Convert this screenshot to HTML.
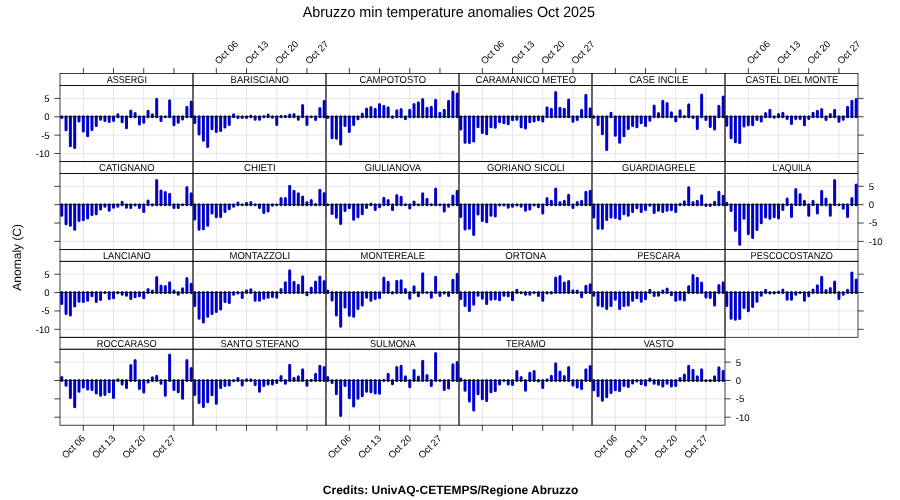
<!DOCTYPE html><html><head><meta charset="utf-8"><style>html,body{margin:0;padding:0;background:#fff;width:900px;height:500px;overflow:hidden}svg{display:block;will-change:transform}text{font-family:"Liberation Sans",sans-serif;fill:#000;text-rendering:geometricPrecision}</style></head><body>
<svg width="900" height="500" viewBox="0 0 900 500">
<rect width="900" height="500" fill="#fff"/>
<text transform="translate(448.9 16.75) scale(0.955 1)" font-size="15" text-anchor="middle">Abruzzo min temperature anomalies Oct 2025</text>
<text transform="translate(20.9 257.3) rotate(-90)" font-size="12" text-anchor="middle">Anomaly (C)</text>
<text x="450.6" y="493.8" font-size="12" font-weight="bold" text-anchor="middle">Credits: UnivAQ-CETEMPS/Regione Abruzzo</text>
<defs>
<clipPath id="cp0"><rect x="60.00" y="85.50" width="133.00" height="76.00"/></clipPath>
<clipPath id="cp1"><rect x="193.00" y="85.50" width="133.00" height="76.00"/></clipPath>
<clipPath id="cp2"><rect x="326.00" y="85.50" width="133.00" height="76.00"/></clipPath>
<clipPath id="cp3"><rect x="459.00" y="85.50" width="133.00" height="76.00"/></clipPath>
<clipPath id="cp4"><rect x="592.00" y="85.50" width="133.00" height="76.00"/></clipPath>
<clipPath id="cp5"><rect x="725.00" y="85.50" width="133.00" height="76.00"/></clipPath>
<clipPath id="cp6"><rect x="60.00" y="173.40" width="133.00" height="76.00"/></clipPath>
<clipPath id="cp7"><rect x="193.00" y="173.40" width="133.00" height="76.00"/></clipPath>
<clipPath id="cp8"><rect x="326.00" y="173.40" width="133.00" height="76.00"/></clipPath>
<clipPath id="cp9"><rect x="459.00" y="173.40" width="133.00" height="76.00"/></clipPath>
<clipPath id="cp10"><rect x="592.00" y="173.40" width="133.00" height="76.00"/></clipPath>
<clipPath id="cp11"><rect x="725.00" y="173.40" width="133.00" height="76.00"/></clipPath>
<clipPath id="cp12"><rect x="60.00" y="261.30" width="133.00" height="76.00"/></clipPath>
<clipPath id="cp13"><rect x="193.00" y="261.30" width="133.00" height="76.00"/></clipPath>
<clipPath id="cp14"><rect x="326.00" y="261.30" width="133.00" height="76.00"/></clipPath>
<clipPath id="cp15"><rect x="459.00" y="261.30" width="133.00" height="76.00"/></clipPath>
<clipPath id="cp16"><rect x="592.00" y="261.30" width="133.00" height="76.00"/></clipPath>
<clipPath id="cp17"><rect x="725.00" y="261.30" width="133.00" height="76.00"/></clipPath>
<clipPath id="cp18"><rect x="60.00" y="349.20" width="133.00" height="76.00"/></clipPath>
<clipPath id="cp19"><rect x="193.00" y="349.20" width="133.00" height="76.00"/></clipPath>
<clipPath id="cp20"><rect x="326.00" y="349.20" width="133.00" height="76.00"/></clipPath>
<clipPath id="cp21"><rect x="459.00" y="349.20" width="133.00" height="76.00"/></clipPath>
<clipPath id="cp22"><rect x="592.00" y="349.20" width="133.00" height="76.00"/></clipPath>
</defs>
<path d="M83.33 85.50V161.50M113.53 85.50V161.50M143.74 85.50V161.50M173.94 85.50V161.50M60.00 98.41H193.00M60.00 135.13H193.00M60.00 153.50H193.00" stroke="#E6E6E6" stroke-width="1" fill="none"/>
<g clip-path="url(#cp0)"><path d="M61.75 116.77V117.50M66.06 116.77V129.81M70.38 116.77V145.64M74.69 116.77V147.48M79.01 116.77V121.03M83.33 116.77V131.02M87.64 116.77V135.87M91.95 116.77V129.48M96.27 116.77V125.59M100.59 116.77V119.19M104.90 116.77V120.59M109.22 116.77V121.54M113.53 116.77V120.59M117.84 116.77V114.82M122.16 116.77V121.80M126.48 116.77V127.64M130.79 116.77V111.00M135.11 116.77V113.61M139.42 116.77V124.12M143.74 116.77V122.28M148.05 116.77V111.30M152.37 116.77V114.82M156.68 116.77V99.32M161.00 116.77V120.59M165.31 116.77V116.77M169.62 116.77V100.87M173.94 116.77V124.85M178.25 116.77V122.28M182.57 116.77V118.97M186.88 116.77V107.15M191.20 116.77V102.08" stroke="#0000CD" stroke-width="3" stroke-linecap="round" fill="none"/>
<path d="M60.00 116.77H193.00" stroke="#000" stroke-width="0.75"/></g>
<rect x="60.00" y="73.60" width="133.00" height="11.90" fill="none" stroke="#000" stroke-width="0.75"/>
<rect x="60.00" y="85.50" width="133.00" height="76.00" fill="none" stroke="#000" stroke-width="0.75"/>
<text transform="translate(126.80 82.80) scale(0.906 1)" font-size="10" text-anchor="middle">ASSERGI</text>
<path d="M216.32 85.50V161.50M246.53 85.50V161.50M276.74 85.50V161.50M306.94 85.50V161.50M193.00 98.41H326.00M193.00 135.13H326.00M193.00 153.50H326.00" stroke="#E6E6E6" stroke-width="1" fill="none"/>
<g clip-path="url(#cp1)"><path d="M194.75 116.77V122.57M199.06 116.77V134.03M203.38 116.77V140.28M207.69 116.77V146.52M212.01 116.77V128.71M216.32 116.77V131.46M220.64 116.77V130.54M224.96 116.77V127.05M229.27 116.77V124.48M233.59 116.77V114.75M237.90 116.77V117.50M242.22 116.77V117.50M246.53 116.77V117.50M250.84 116.77V116.04M255.16 116.77V119.19M259.48 116.77V119.19M263.79 116.77V116.59M268.11 116.77V115.12M272.42 116.77V117.14M276.74 116.77V124.48M281.05 116.77V116.15M285.37 116.77V116.15M289.68 116.77V115.12M294.00 116.77V114.53M298.31 116.77V119.19M302.62 116.77V105.57M306.94 116.77V124.48M311.25 116.77V116.77M315.57 116.77V119.49M319.88 116.77V108.40M324.20 116.77V101.31" stroke="#0000CD" stroke-width="3" stroke-linecap="round" fill="none"/>
<path d="M193.00 116.77H326.00" stroke="#000" stroke-width="0.75"/></g>
<rect x="193.00" y="73.60" width="133.00" height="11.90" fill="none" stroke="#000" stroke-width="0.75"/>
<rect x="193.00" y="85.50" width="133.00" height="76.00" fill="none" stroke="#000" stroke-width="0.75"/>
<text transform="translate(259.80 82.80) scale(0.946 1)" font-size="10" text-anchor="middle">BARISCIANO</text>
<path d="M349.32 85.50V161.50M379.53 85.50V161.50M409.74 85.50V161.50M439.94 85.50V161.50M326.00 98.41H459.00M326.00 135.13H459.00M326.00 153.50H459.00" stroke="#E6E6E6" stroke-width="1" fill="none"/>
<g clip-path="url(#cp2)"><path d="M327.75 116.77V117.50M332.06 116.77V137.71M336.38 116.77V138.26M340.69 116.77V143.95M345.01 116.77V125.59M349.32 116.77V131.46M353.64 116.77V124.48M357.95 116.77V118.72M362.27 116.77V114.02M366.58 116.77V108.98M370.90 116.77V107.40M375.22 116.77V109.24M379.53 116.77V104.47M383.85 116.77V106.30M388.16 116.77V107.77M392.48 116.77V117.32M396.79 116.77V110.86M401.11 116.77V109.46M405.42 116.77V118.72M409.74 116.77V110.23M414.05 116.77V104.47M418.37 116.77V102.85M422.68 116.77V99.47M427.00 116.77V108.21M431.31 116.77V107.15M435.62 116.77V100.24M439.94 116.77V113.28M444.25 116.77V110.23M448.57 116.77V101.31M452.88 116.77V92.09M457.20 116.77V93.92" stroke="#0000CD" stroke-width="3" stroke-linecap="round" fill="none"/>
<path d="M326.00 116.77H459.00" stroke="#000" stroke-width="0.75"/></g>
<rect x="326.00" y="73.60" width="133.00" height="11.90" fill="none" stroke="#000" stroke-width="0.75"/>
<rect x="326.00" y="85.50" width="133.00" height="76.00" fill="none" stroke="#000" stroke-width="0.75"/>
<text transform="translate(392.80 82.80) scale(0.941 1)" font-size="10" text-anchor="middle">CAMPOTOSTO</text>
<path d="M482.32 85.50V161.50M512.53 85.50V161.50M542.74 85.50V161.50M572.94 85.50V161.50M459.00 98.41H592.00M459.00 135.13H592.00M459.00 153.50H592.00" stroke="#E6E6E6" stroke-width="1" fill="none"/>
<g clip-path="url(#cp3)"><path d="M460.75 116.77V129.04M465.06 116.77V142.26M469.38 116.77V142.55M473.69 116.77V141.01M478.01 116.77V126.87M482.32 116.77V132.56M486.64 116.77V133.67M490.95 116.77V126.87M495.27 116.77V127.20M499.58 116.77V121.80M503.90 116.77V122.87M508.22 116.77V123.82M512.53 116.77V119.82M516.85 116.77V119.19M521.16 116.77V126.87M525.48 116.77V127.97M529.79 116.77V121.80M534.11 116.77V121.03M538.42 116.77V119.82M542.74 116.77V121.03M547.05 116.77V107.77M551.37 116.77V109.31M555.68 116.77V92.38M560.00 116.77V108.21M564.31 116.77V109.31M568.62 116.77V100.06M572.94 116.77V121.36M577.25 116.77V119.49M581.57 116.77V110.23M585.88 116.77V95.17M590.20 116.77V108.69" stroke="#0000CD" stroke-width="3" stroke-linecap="round" fill="none"/>
<path d="M459.00 116.77H592.00" stroke="#000" stroke-width="0.75"/></g>
<rect x="459.00" y="73.60" width="133.00" height="11.90" fill="none" stroke="#000" stroke-width="0.75"/>
<rect x="459.00" y="85.50" width="133.00" height="76.00" fill="none" stroke="#000" stroke-width="0.75"/>
<text transform="translate(525.80 82.80) scale(0.947 1)" font-size="10" text-anchor="middle">CARAMANICO METEO</text>
<path d="M615.33 85.50V161.50M645.53 85.50V161.50M675.74 85.50V161.50M705.94 85.50V161.50M592.00 98.41H725.00M592.00 135.13H725.00M592.00 153.50H725.00" stroke="#E6E6E6" stroke-width="1" fill="none"/>
<g clip-path="url(#cp4)"><path d="M593.75 116.77V117.14M598.07 116.77V124.41M602.38 116.77V133.67M606.70 116.77V149.46M611.01 116.77V113.28M615.33 116.77V135.13M619.64 116.77V142.26M623.96 116.77V135.65M628.27 116.77V128.41M632.59 116.77V125.59M636.90 116.77V126.87M641.22 116.77V122.87M645.53 116.77V125.59M649.85 116.77V120.26M654.16 116.77V105.93M658.48 116.77V113.61M662.79 116.77V101.31M667.11 116.77V103.62M671.42 116.77V112.84M675.74 116.77V120.74M680.05 116.77V110.86M684.37 116.77V116.59M688.68 116.77V104.83M693.00 116.77V117.50M697.31 116.77V128.41M701.62 116.77V94.92M705.94 116.77V119.49M710.25 116.77V126.43M714.57 116.77V129.04M718.88 116.77V106.23M723.20 116.77V97.01" stroke="#0000CD" stroke-width="3" stroke-linecap="round" fill="none"/>
<path d="M592.00 116.77H725.00" stroke="#000" stroke-width="0.75"/></g>
<rect x="592.00" y="73.60" width="133.00" height="11.90" fill="none" stroke="#000" stroke-width="0.75"/>
<rect x="592.00" y="85.50" width="133.00" height="76.00" fill="none" stroke="#000" stroke-width="0.75"/>
<text transform="translate(658.80 82.80) scale(0.952 1)" font-size="10" text-anchor="middle">CASE INCILE</text>
<path d="M748.33 85.50V161.50M778.53 85.50V161.50M808.74 85.50V161.50M838.94 85.50V161.50M725.00 98.41H858.00M725.00 135.13H858.00M725.00 153.50H858.00" stroke="#E6E6E6" stroke-width="1" fill="none"/>
<g clip-path="url(#cp5)"><path d="M726.75 116.77V125.33M731.07 116.77V137.71M735.38 116.77V141.75M739.70 116.77V142.48M744.01 116.77V125.95M748.33 116.77V124.85M752.64 116.77V124.85M756.96 116.77V119.49M761.27 116.77V121.03M765.59 116.77V113.61M769.90 116.77V110.23M774.22 116.77V117.14M778.53 116.77V114.38M782.85 116.77V113.28M787.16 116.77V118.61M791.48 116.77V123.38M795.79 116.77V118.61M800.11 116.77V118.61M804.42 116.77V124.85M808.74 116.77V118.61M813.05 116.77V113.28M817.37 116.77V111.30M821.68 116.77V109.46M826.00 116.77V119.49M830.31 116.77V114.53M834.62 116.77V110.23M838.94 116.77V121.36M843.25 116.77V119.19M847.57 116.77V107.15M851.88 116.77V101.31M856.20 116.77V99.47" stroke="#0000CD" stroke-width="3" stroke-linecap="round" fill="none"/>
<path d="M725.00 116.77H858.00" stroke="#000" stroke-width="0.75"/></g>
<rect x="725.00" y="73.60" width="133.00" height="11.90" fill="none" stroke="#000" stroke-width="0.75"/>
<rect x="725.00" y="85.50" width="133.00" height="76.00" fill="none" stroke="#000" stroke-width="0.75"/>
<text transform="translate(791.80 82.80) scale(0.934 1)" font-size="10" text-anchor="middle">CASTEL DEL MONTE</text>
<path d="M83.33 173.40V249.40M113.53 173.40V249.40M143.74 173.40V249.40M173.94 173.40V249.40M60.00 186.31H193.00M60.00 223.04H193.00M60.00 241.40H193.00" stroke="#E6E6E6" stroke-width="1" fill="none"/>
<g clip-path="url(#cp6)"><path d="M61.75 204.67V215.25M66.06 204.67V223.70M70.38 204.67V225.24M74.69 204.67V229.28M79.01 204.67V220.61M83.33 204.67V219.84M87.64 204.67V217.89M91.95 204.67V214.48M96.27 204.67V213.71M100.59 204.67V209.08M104.90 204.67V206.32M109.22 204.67V210.33M113.53 204.67V207.24M117.84 204.67V206.32M122.16 204.67V202.14M126.48 204.67V207.24M130.79 204.67V207.57M135.11 204.67V205.04M139.42 204.67V207.57M143.74 204.67V211.39M148.05 204.67V200.89M152.37 204.67V205.04M156.68 204.67V180.46M161.00 204.67V190.90M165.31 204.67V192.44M169.62 204.67V194.28M173.94 204.67V207.57M178.25 204.67V207.57M182.57 204.67V204.85M186.88 204.67V187.52M191.20 204.67V193.65" stroke="#0000CD" stroke-width="3" stroke-linecap="round" fill="none"/>
<path d="M60.00 204.67H193.00" stroke="#000" stroke-width="0.75"/></g>
<rect x="60.00" y="161.50" width="133.00" height="11.90" fill="none" stroke="#000" stroke-width="0.75"/>
<rect x="60.00" y="173.40" width="133.00" height="76.00" fill="none" stroke="#000" stroke-width="0.75"/>
<text transform="translate(126.80 170.70) scale(0.943 1)" font-size="10" text-anchor="middle">CATIGNANO</text>
<path d="M216.32 173.40V249.40M246.53 173.40V249.40M276.74 173.40V249.40M306.94 173.40V249.40M193.00 186.31H326.00M193.00 223.04H326.00M193.00 241.40H326.00" stroke="#E6E6E6" stroke-width="1" fill="none"/>
<g clip-path="url(#cp7)"><path d="M194.75 204.67V219.07M199.06 204.67V229.28M203.38 204.67V228.76M207.69 204.67V225.24M212.01 204.67V212.93M216.32 204.67V216.79M220.64 204.67V216.42M224.96 204.67V211.39M229.27 204.67V208.78M233.59 204.67V206.32M237.90 204.67V202.91M242.22 204.67V204.85M246.53 204.67V203.20M250.84 204.67V202.58M255.16 204.67V204.85M259.48 204.67V207.57M263.79 204.67V212.46M268.11 204.67V210.91M272.42 204.67V205.29M276.74 204.67V204.85M281.05 204.67V198.61M285.37 204.67V198.61M289.68 204.67V186.31M294.00 204.67V191.37M298.31 204.67V193.65M302.62 204.67V197.07M306.94 204.67V202.43M311.25 204.67V200.45M315.57 204.67V204.49M319.88 204.67V190.16M324.20 204.67V193.47" stroke="#0000CD" stroke-width="3" stroke-linecap="round" fill="none"/>
<path d="M193.00 204.67H326.00" stroke="#000" stroke-width="0.75"/></g>
<rect x="193.00" y="161.50" width="133.00" height="11.90" fill="none" stroke="#000" stroke-width="0.75"/>
<rect x="193.00" y="173.40" width="133.00" height="76.00" fill="none" stroke="#000" stroke-width="0.75"/>
<text transform="translate(259.80 170.70) scale(0.969 1)" font-size="10" text-anchor="middle">CHIETI</text>
<path d="M349.32 173.40V249.40M379.53 173.40V249.40M409.74 173.40V249.40M439.94 173.40V249.40M326.00 186.31H459.00M326.00 223.04H459.00M326.00 241.40H459.00" stroke="#E6E6E6" stroke-width="1" fill="none"/>
<g clip-path="url(#cp8)"><path d="M327.75 204.67V204.67M332.06 204.67V213.49M336.38 204.67V217.16M340.69 204.67V223.40M345.01 204.67V210.62M349.32 204.67V207.87M353.64 204.67V219.25M357.95 204.67V216.79M362.27 204.67V213.71M366.58 204.67V207.57M370.90 204.67V204.05M375.22 204.67V209.56M379.53 204.67V206.80M383.85 204.67V198.24M388.16 204.67V200.59M392.48 204.67V209.56M396.79 204.67V195.52M401.11 204.67V197.36M405.42 204.67V204.85M409.74 204.67V208.01M414.05 204.67V201.95M418.37 204.67V204.85M422.68 204.67V193.65M427.00 204.67V199.34M431.31 204.67V204.67M435.62 204.67V188.91M439.94 204.67V204.85M444.25 204.67V210.91M448.57 204.67V206.32M452.88 204.67V195.96M457.20 204.67V191.37" stroke="#0000CD" stroke-width="3" stroke-linecap="round" fill="none"/>
<path d="M326.00 204.67H459.00" stroke="#000" stroke-width="0.75"/></g>
<rect x="326.00" y="161.50" width="133.00" height="11.90" fill="none" stroke="#000" stroke-width="0.75"/>
<rect x="326.00" y="173.40" width="133.00" height="76.00" fill="none" stroke="#000" stroke-width="0.75"/>
<text transform="translate(392.80 170.70) scale(0.932 1)" font-size="10" text-anchor="middle">GIULIANOVA</text>
<path d="M482.32 173.40V249.40M512.53 173.40V249.40M542.74 173.40V249.40M572.94 173.40V249.40M459.00 186.31H592.00M459.00 223.04H592.00M459.00 241.40H592.00" stroke="#E6E6E6" stroke-width="1" fill="none"/>
<g clip-path="url(#cp9)"><path d="M460.75 204.67V216.42M465.06 204.67V229.06M469.38 204.67V228.29M473.69 204.67V234.42M478.01 204.67V214.00M482.32 204.67V220.46M486.64 204.67V221.71M490.95 204.67V215.25M495.27 204.67V216.06M499.58 204.67V205.04M503.90 204.67V205.04M508.22 204.67V207.24M512.53 204.67V206.32M516.85 204.67V205.04M521.16 204.67V206.32M525.48 204.67V210.18M529.79 204.67V209.08M534.11 204.67V205.04M538.42 204.67V206.80M542.74 204.67V212.93M547.05 204.67V198.61M551.37 204.67V201.36M555.68 204.67V189.06M560.00 204.67V202.43M564.31 204.67V201.36M568.62 204.67V195.19M572.94 204.67V207.57M577.25 204.67V202.58M581.57 204.67V201.36M585.88 204.67V192.15M590.20 204.67V191.26" stroke="#0000CD" stroke-width="3" stroke-linecap="round" fill="none"/>
<path d="M459.00 204.67H592.00" stroke="#000" stroke-width="0.75"/></g>
<rect x="459.00" y="161.50" width="133.00" height="11.90" fill="none" stroke="#000" stroke-width="0.75"/>
<rect x="459.00" y="173.40" width="133.00" height="76.00" fill="none" stroke="#000" stroke-width="0.75"/>
<text transform="translate(525.80 170.70) scale(0.938 1)" font-size="10" text-anchor="middle">GORIANO SICOLI</text>
<path d="M615.33 173.40V249.40M645.53 173.40V249.40M675.74 173.40V249.40M705.94 173.40V249.40M592.00 186.31H725.00M592.00 223.04H725.00M592.00 241.40H725.00" stroke="#E6E6E6" stroke-width="1" fill="none"/>
<g clip-path="url(#cp10)"><path d="M593.75 204.67V217.08M598.07 204.67V228.29M602.38 204.67V228.29M606.70 204.67V219.55M611.01 204.67V217.08M615.33 204.67V217.53M619.64 204.67V218.63M623.96 204.67V213.71M628.27 204.67V215.25M632.59 204.67V211.39M636.90 204.67V207.87M641.22 204.67V211.39M645.53 204.67V209.41M649.85 204.67V205.22M654.16 204.67V212.46M658.48 204.67V210.33M662.79 204.67V211.54M667.11 204.67V210.33M671.42 204.67V209.81M675.74 204.67V211.39M680.05 204.67V204.19M684.37 204.67V201.66M688.68 204.67V187.85M693.00 204.67V202.58M697.31 204.67V201.18M701.62 204.67V195.82M705.94 204.67V205.40M710.25 204.67V205.40M714.57 204.67V202.14M718.88 204.67V192.15M723.20 204.67V196.30" stroke="#0000CD" stroke-width="3" stroke-linecap="round" fill="none"/>
<path d="M592.00 204.67H725.00" stroke="#000" stroke-width="0.75"/></g>
<rect x="592.00" y="161.50" width="133.00" height="11.90" fill="none" stroke="#000" stroke-width="0.75"/>
<rect x="592.00" y="173.40" width="133.00" height="76.00" fill="none" stroke="#000" stroke-width="0.75"/>
<text transform="translate(658.80 170.70) scale(0.924 1)" font-size="10" text-anchor="middle">GUARDIAGRELE</text>
<path d="M748.33 173.40V249.40M778.53 173.40V249.40M808.74 173.40V249.40M838.94 173.40V249.40M725.00 186.31H858.00M725.00 223.04H858.00M725.00 241.40H858.00" stroke="#E6E6E6" stroke-width="1" fill="none"/>
<g clip-path="url(#cp11)"><path d="M726.75 204.67V203.20M731.07 204.67V210.62M735.38 204.67V230.31M739.70 204.67V244.34M744.01 204.67V218.15M748.33 204.67V233.69M752.64 204.67V237.51M756.96 204.67V229.39M761.27 204.67V222.67M765.59 204.67V217.08M769.90 204.67V218.26M774.22 204.67V216.79M778.53 204.67V218.00M782.85 204.67V209.41M787.16 204.67V198.90M791.48 204.67V216.42M795.79 204.67V189.43M800.11 204.67V194.42M804.42 204.67V201.18M808.74 204.67V215.25M813.05 204.67V201.18M817.37 204.67V212.93M821.68 204.67V191.26M826.00 204.67V198.90M830.31 204.67V215.25M834.62 204.67V180.46M838.94 204.67V204.67M843.25 204.67V208.34M847.57 204.67V216.42M851.88 204.67V198.61M856.20 204.67V185.02" stroke="#0000CD" stroke-width="3" stroke-linecap="round" fill="none"/>
<path d="M725.00 204.67H858.00" stroke="#000" stroke-width="0.75"/></g>
<rect x="725.00" y="161.50" width="133.00" height="11.90" fill="none" stroke="#000" stroke-width="0.75"/>
<rect x="725.00" y="173.40" width="133.00" height="76.00" fill="none" stroke="#000" stroke-width="0.75"/>
<text transform="translate(791.80 170.70) scale(0.875 1)" font-size="10" text-anchor="middle">L&apos;AQUILA</text>
<path d="M83.33 261.30V337.30M113.53 261.30V337.30M143.74 261.30V337.30M173.94 261.30V337.30M60.00 274.20H193.00M60.00 310.94H193.00M60.00 329.30H193.00" stroke="#E6E6E6" stroke-width="1" fill="none"/>
<g clip-path="url(#cp12)"><path d="M61.75 292.57V303.44M66.06 292.57V313.51M70.38 292.57V315.12M74.69 292.57V305.90M79.01 292.57V301.31M83.33 292.57V301.61M87.64 292.57V300.36M91.95 292.57V295.77M96.27 292.57V301.61M100.59 292.57V299.44M104.90 292.57V292.39M109.22 292.57V298.52M113.53 292.57V297.71M117.84 292.57V292.75M122.16 292.57V294.22M126.48 292.57V295.14M130.79 292.57V298.52M135.11 292.57V296.68M139.42 292.57V295.77M143.74 292.57V297.71M148.05 292.57V289.56M152.37 292.57V291.10M156.68 292.57V277.58M161.00 292.57V286.03M165.31 292.57V286.51M169.62 292.57V282.65M173.94 292.57V291.10M178.25 292.57V294.22M182.57 292.57V288.79M186.88 292.57V278.50M191.20 292.57V284.20" stroke="#0000CD" stroke-width="3" stroke-linecap="round" fill="none"/>
<path d="M60.00 292.57H193.00" stroke="#000" stroke-width="0.75"/></g>
<rect x="60.00" y="249.40" width="133.00" height="11.90" fill="none" stroke="#000" stroke-width="0.75"/>
<rect x="60.00" y="261.30" width="133.00" height="76.00" fill="none" stroke="#000" stroke-width="0.75"/>
<text transform="translate(126.80 258.60) scale(0.934 1)" font-size="10" text-anchor="middle">LANCIANO</text>
<path d="M216.32 261.30V337.30M246.53 261.30V337.30M276.74 261.30V337.30M306.94 261.30V337.30M193.00 274.20H326.00M193.00 310.94H326.00M193.00 329.30H326.00" stroke="#E6E6E6" stroke-width="1" fill="none"/>
<g clip-path="url(#cp13)"><path d="M194.75 292.57V305.43M199.06 292.57V318.21M203.38 292.57V321.88M207.69 292.57V316.19M212.01 292.57V313.43M216.32 292.57V311.60M220.64 292.57V308.99M224.96 292.57V301.61M229.27 292.57V302.38M233.59 292.57V294.22M237.90 292.57V292.94M242.22 292.57V297.46M246.53 292.57V290.81M250.84 292.57V289.85M255.16 292.57V300.36M259.48 292.57V300.36M263.79 292.57V298.23M268.11 292.57V297.31M272.42 292.57V296.54M276.74 292.57V297.31M281.05 292.57V289.56M285.37 292.57V282.65M289.68 292.57V270.83M294.00 292.57V282.18M298.31 292.57V285.26M302.62 292.57V276.81M306.94 292.57V294.70M311.25 292.57V288.02M315.57 292.57V281.88M319.88 292.57V276.96M324.20 292.57V281.55" stroke="#0000CD" stroke-width="3" stroke-linecap="round" fill="none"/>
<path d="M193.00 292.57H326.00" stroke="#000" stroke-width="0.75"/></g>
<rect x="193.00" y="249.40" width="133.00" height="11.90" fill="none" stroke="#000" stroke-width="0.75"/>
<rect x="193.00" y="261.30" width="133.00" height="76.00" fill="none" stroke="#000" stroke-width="0.75"/>
<text transform="translate(259.80 258.60) scale(0.953 1)" font-size="10" text-anchor="middle">MONTAZZOLI</text>
<path d="M349.32 261.30V337.30M379.53 261.30V337.30M409.74 261.30V337.30M439.94 261.30V337.30M326.00 274.20H459.00M326.00 310.94H459.00M326.00 329.30H459.00" stroke="#E6E6E6" stroke-width="1" fill="none"/>
<g clip-path="url(#cp14)"><path d="M327.75 292.57V291.10M332.06 292.57V300.06M336.38 292.57V315.12M340.69 292.57V326.18M345.01 292.57V306.97M349.32 292.57V315.34M353.64 292.57V316.19M357.95 292.57V308.51M362.27 292.57V304.98M366.58 292.57V297.31M370.90 292.57V300.36M375.22 292.57V298.52M379.53 292.57V297.46M383.85 292.57V278.06M388.16 292.57V282.32M392.48 292.57V292.94M396.79 292.57V281.37M401.11 292.57V280.63M405.42 292.57V289.56M409.74 292.57V298.23M414.05 292.57V286.80M418.37 292.57V295.77M422.68 292.57V273.73M427.00 292.57V292.39M431.31 292.57V297.31M435.62 292.57V277.33M439.94 292.57V295.47M444.25 292.57V292.94M448.57 292.57V295.47M452.88 292.57V280.34M457.20 292.57V274.20" stroke="#0000CD" stroke-width="3" stroke-linecap="round" fill="none"/>
<path d="M326.00 292.57H459.00" stroke="#000" stroke-width="0.75"/></g>
<rect x="326.00" y="249.40" width="133.00" height="11.90" fill="none" stroke="#000" stroke-width="0.75"/>
<rect x="326.00" y="261.30" width="133.00" height="76.00" fill="none" stroke="#000" stroke-width="0.75"/>
<text transform="translate(392.80 258.60) scale(0.934 1)" font-size="10" text-anchor="middle">MONTEREALE</text>
<path d="M482.32 261.30V337.30M512.53 261.30V337.30M542.74 261.30V337.30M572.94 261.30V337.30M459.00 274.20H592.00M459.00 310.94H592.00M459.00 329.30H592.00" stroke="#E6E6E6" stroke-width="1" fill="none"/>
<g clip-path="url(#cp15)"><path d="M460.75 292.57V298.52M465.06 292.57V305.43M469.38 292.57V310.57M473.69 292.57V304.32M478.01 292.57V295.14M482.32 292.57V298.23M486.64 292.57V303.44M490.95 292.57V299.29M495.27 292.57V298.81M499.58 292.57V299.77M503.90 292.57V295.14M508.22 292.57V295.77M512.53 292.57V299.77M516.85 292.57V290.33M521.16 292.57V292.75M525.48 292.57V294.22M529.79 292.57V294.22M534.11 292.57V292.57M538.42 292.57V295.47M542.74 292.57V300.36M547.05 292.57V292.94M551.37 292.57V292.94M555.68 292.57V278.06M560.00 292.57V276.48M564.31 292.57V283.09M568.62 292.57V281.55M572.94 292.57V290.81M577.25 292.57V291.10M581.57 292.57V296.68M585.88 292.57V286.18M590.20 292.57V284.67" stroke="#0000CD" stroke-width="3" stroke-linecap="round" fill="none"/>
<path d="M459.00 292.57H592.00" stroke="#000" stroke-width="0.75"/></g>
<rect x="459.00" y="249.40" width="133.00" height="11.90" fill="none" stroke="#000" stroke-width="0.75"/>
<rect x="459.00" y="261.30" width="133.00" height="76.00" fill="none" stroke="#000" stroke-width="0.75"/>
<text transform="translate(525.80 258.60) scale(0.964 1)" font-size="10" text-anchor="middle">ORTONA</text>
<path d="M615.33 261.30V337.30M645.53 261.30V337.30M675.74 261.30V337.30M705.94 261.30V337.30M592.00 274.20H725.00M592.00 310.94H725.00M592.00 329.30H725.00" stroke="#E6E6E6" stroke-width="1" fill="none"/>
<g clip-path="url(#cp16)"><path d="M593.75 292.57V295.14M598.07 292.57V304.98M602.38 292.57V305.90M606.70 292.57V308.51M611.01 292.57V305.43M615.33 292.57V299.29M619.64 292.57V308.51M623.96 292.57V305.43M628.27 292.57V304.98M632.59 292.57V300.36M636.90 292.57V297.71M641.22 292.57V301.31M645.53 292.57V298.81M649.85 292.57V290.33M654.16 292.57V295.47M658.48 292.57V295.14M662.79 292.57V291.10M667.11 292.57V289.08M671.42 292.57V294.70M675.74 292.57V300.36M680.05 292.57V299.29M684.37 292.57V300.06M688.68 292.57V286.51M693.00 292.57V275.42M697.31 292.57V278.36M701.62 292.57V283.09M705.94 292.57V296.98M710.25 292.57V297.46M714.57 292.57V304.98M718.88 292.57V285.41M723.20 292.57V282.65" stroke="#0000CD" stroke-width="3" stroke-linecap="round" fill="none"/>
<path d="M592.00 292.57H725.00" stroke="#000" stroke-width="0.75"/></g>
<rect x="592.00" y="249.40" width="133.00" height="11.90" fill="none" stroke="#000" stroke-width="0.75"/>
<rect x="592.00" y="261.30" width="133.00" height="76.00" fill="none" stroke="#000" stroke-width="0.75"/>
<text transform="translate(658.80 258.60) scale(0.900 1)" font-size="10" text-anchor="middle">PESCARA</text>
<path d="M748.33 261.30V337.30M778.53 261.30V337.30M808.74 261.30V337.30M838.94 261.30V337.30M725.00 274.20H858.00M725.00 310.94H858.00M725.00 329.30H858.00" stroke="#E6E6E6" stroke-width="1" fill="none"/>
<g clip-path="url(#cp17)"><path d="M726.75 292.57V305.43M731.07 292.57V318.21M735.38 292.57V319.27M739.70 292.57V318.50M744.01 292.57V307.45M748.33 292.57V310.82M752.64 292.57V306.53M756.96 292.57V301.31M761.27 292.57V295.14M765.59 292.57V290.33M769.90 292.57V292.94M774.22 292.57V292.94M778.53 292.57V291.95M782.85 292.57V290.04M787.16 292.57V299.29M791.48 292.57V299.29M795.79 292.57V294.22M800.11 292.57V292.57M804.42 292.57V300.36M808.74 292.57V295.77M813.05 292.57V290.04M817.37 292.57V285.70M821.68 292.57V277.33M826.00 292.57V290.48M830.31 292.57V288.49M834.62 292.57V281.88M838.94 292.57V298.52M843.25 292.57V294.22M847.57 292.57V290.33M851.88 292.57V272.92M856.20 292.57V279.90" stroke="#0000CD" stroke-width="3" stroke-linecap="round" fill="none"/>
<path d="M725.00 292.57H858.00" stroke="#000" stroke-width="0.75"/></g>
<rect x="725.00" y="249.40" width="133.00" height="11.90" fill="none" stroke="#000" stroke-width="0.75"/>
<rect x="725.00" y="261.30" width="133.00" height="76.00" fill="none" stroke="#000" stroke-width="0.75"/>
<text transform="translate(791.80 258.60) scale(0.917 1)" font-size="10" text-anchor="middle">PESCOCOSTANZO</text>
<path d="M83.33 349.20V425.20M113.53 349.20V425.20M143.74 349.20V425.20M173.94 349.20V425.20M60.00 362.11H193.00M60.00 398.84H193.00M60.00 417.20H193.00" stroke="#E6E6E6" stroke-width="1" fill="none"/>
<g clip-path="url(#cp18)"><path d="M61.75 380.47V377.46M66.06 380.47V385.21M70.38 380.47V397.48M74.69 380.47V406.73M79.01 380.47V391.34M83.33 380.47V387.04M87.64 380.47V389.03M91.95 380.47V389.51M96.27 380.47V392.88M100.59 380.47V395.16M104.90 380.47V394.43M109.22 380.47V391.67M113.53 380.47V397.48M117.84 380.47V379.85M122.16 380.47V383.96M126.48 380.47V387.52M130.79 380.47V365.48M135.11 380.47V360.45M139.42 380.47V388.55M143.74 380.47V392.11M148.05 380.47V382.12M152.37 380.47V377.75M156.68 380.47V376.25M161.00 380.47V383.37M165.31 380.47V395.16M169.62 380.47V355.02M173.94 380.47V389.51M178.25 380.47V391.67M182.57 380.47V398.25M186.88 380.47V360.45M191.20 380.47V368.53" stroke="#0000CD" stroke-width="3" stroke-linecap="round" fill="none"/>
<path d="M60.00 380.47H193.00" stroke="#000" stroke-width="0.75"/></g>
<rect x="60.00" y="337.30" width="133.00" height="11.90" fill="none" stroke="#000" stroke-width="0.75"/>
<rect x="60.00" y="349.20" width="133.00" height="76.00" fill="none" stroke="#000" stroke-width="0.75"/>
<text transform="translate(126.80 346.50) scale(0.930 1)" font-size="10" text-anchor="middle">ROCCARASO</text>
<path d="M216.32 349.20V425.20M246.53 349.20V425.20M276.74 349.20V425.20M306.94 349.20V425.20M193.00 362.11H326.00M193.00 398.84H326.00M193.00 417.20H326.00" stroke="#E6E6E6" stroke-width="1" fill="none"/>
<g clip-path="url(#cp19)"><path d="M194.75 380.47V394.43M199.06 380.47V402.40M203.38 380.47V406.40M207.69 380.47V401.77M212.01 380.47V394.72M216.32 380.47V403.24M220.64 380.47V387.52M224.96 380.47V385.50M229.27 380.47V384.88M233.59 380.47V380.65M237.90 380.47V378.52M242.22 380.47V384.88M246.53 380.47V379.85M250.84 380.47V379.85M255.16 380.47V384.44M259.48 380.47V391.34M263.79 380.47V385.61M268.11 380.47V383.96M272.42 380.47V383.96M276.74 380.47V382.42M281.05 380.47V376.54M285.37 380.47V383.37M289.68 380.47V365.23M294.00 380.47V378.23M298.31 380.47V376.69M302.62 380.47V369.78M306.94 380.47V385.21M311.25 380.47V380.32M315.57 380.47V374.23M319.88 380.47V366.26M324.20 380.47V367.47" stroke="#0000CD" stroke-width="3" stroke-linecap="round" fill="none"/>
<path d="M193.00 380.47H326.00" stroke="#000" stroke-width="0.75"/></g>
<rect x="193.00" y="337.30" width="133.00" height="11.90" fill="none" stroke="#000" stroke-width="0.75"/>
<rect x="193.00" y="349.20" width="133.00" height="76.00" fill="none" stroke="#000" stroke-width="0.75"/>
<text transform="translate(259.80 346.50) scale(0.936 1)" font-size="10" text-anchor="middle">SANTO STEFANO</text>
<path d="M349.32 349.20V425.20M379.53 349.20V425.20M409.74 349.20V425.20M439.94 349.20V425.20M326.00 362.11H459.00M326.00 398.84H459.00M326.00 417.20H459.00" stroke="#E6E6E6" stroke-width="1" fill="none"/>
<g clip-path="url(#cp20)"><path d="M327.75 380.47V377.46M332.06 380.47V382.42M336.38 380.47V393.66M340.69 380.47V415.62M345.01 380.47V385.50M349.32 380.47V397.81M353.64 380.47V405.96M357.95 380.47V398.25M362.27 380.47V395.64M366.58 380.47V391.34M370.90 380.47V391.67M375.22 380.47V392.88M379.53 380.47V393.18M383.85 380.47V380.18M388.16 380.47V374.23M392.48 380.47V383.67M396.79 380.47V367.47M401.11 380.47V366.26M405.42 380.47V376.69M409.74 380.47V386.71M414.05 380.47V370.55M418.37 380.47V376.98M422.68 380.47V361.33M427.00 380.47V375.51M431.31 380.47V385.50M435.62 380.47V353.47M439.94 380.47V380.47M444.25 380.47V389.51M448.57 380.47V387.96M452.88 380.47V364.71M457.20 380.47V362.40" stroke="#0000CD" stroke-width="3" stroke-linecap="round" fill="none"/>
<path d="M326.00 380.47H459.00" stroke="#000" stroke-width="0.75"/></g>
<rect x="326.00" y="337.30" width="133.00" height="11.90" fill="none" stroke="#000" stroke-width="0.75"/>
<rect x="326.00" y="349.20" width="133.00" height="76.00" fill="none" stroke="#000" stroke-width="0.75"/>
<text transform="translate(392.80 346.50) scale(0.924 1)" font-size="10" text-anchor="middle">SULMONA</text>
<path d="M482.32 349.20V425.20M512.53 349.20V425.20M542.74 349.20V425.20M572.94 349.20V425.20M459.00 362.11H592.00M459.00 398.84H592.00M459.00 417.20H592.00" stroke="#E6E6E6" stroke-width="1" fill="none"/>
<g clip-path="url(#cp21)"><path d="M460.75 380.47V379.00M465.06 380.47V390.13M469.38 380.47V400.89M473.69 380.47V410.11M478.01 380.47V393.66M482.32 380.47V398.72M486.64 380.47V400.56M490.95 380.47V391.67M495.27 380.47V390.57M499.58 380.47V383.96M503.90 380.47V380.47M508.22 380.47V383.96M512.53 380.47V384.44M516.85 380.47V371.62M521.16 380.47V377.46M525.48 380.47V390.13M529.79 380.47V373.16M534.11 380.47V371.62M538.42 380.47V381.09M542.74 380.47V387.52M547.05 380.47V379.85M551.37 380.47V376.25M555.68 380.47V363.65M560.00 380.47V371.91M564.31 380.47V376.54M568.62 380.47V367.47M572.94 380.47V384.88M577.25 380.47V387.04M581.57 380.47V388.55M585.88 380.47V369.63M590.20 380.47V366.55" stroke="#0000CD" stroke-width="3" stroke-linecap="round" fill="none"/>
<path d="M459.00 380.47H592.00" stroke="#000" stroke-width="0.75"/></g>
<rect x="459.00" y="337.30" width="133.00" height="11.90" fill="none" stroke="#000" stroke-width="0.75"/>
<rect x="459.00" y="349.20" width="133.00" height="76.00" fill="none" stroke="#000" stroke-width="0.75"/>
<text transform="translate(525.80 346.50) scale(0.928 1)" font-size="10" text-anchor="middle">TERAMO</text>
<path d="M615.33 349.20V425.20M645.53 349.20V425.20M675.74 349.20V425.20M705.94 349.20V425.20M592.00 362.11H725.00M592.00 398.84H725.00M592.00 417.20H725.00" stroke="#E6E6E6" stroke-width="1" fill="none"/>
<g clip-path="url(#cp22)"><path d="M593.75 380.47V389.80M598.07 380.47V395.64M602.38 380.47V400.27M606.70 380.47V396.70M611.01 380.47V392.59M615.33 380.47V389.80M619.64 380.47V390.57M623.96 380.47V385.50M628.27 380.47V386.42M632.59 380.47V382.89M636.90 380.47V381.09M641.22 380.47V383.67M645.53 380.47V384.88M649.85 380.47V379.00M654.16 380.47V383.37M658.48 380.47V384.14M662.79 380.47V385.98M667.11 380.47V383.37M671.42 380.47V385.98M675.74 380.47V385.50M680.05 380.47V378.52M684.37 380.47V375.00M688.68 380.47V366.26M693.00 380.47V370.37M697.31 380.47V376.69M701.62 380.47V369.63M705.94 380.47V380.65M710.25 380.47V380.65M714.57 380.47V376.69M718.88 380.47V367.80M723.20 380.47V371.14" stroke="#0000CD" stroke-width="3" stroke-linecap="round" fill="none"/>
<path d="M592.00 380.47H725.00" stroke="#000" stroke-width="0.75"/></g>
<rect x="592.00" y="337.30" width="133.00" height="11.90" fill="none" stroke="#000" stroke-width="0.75"/>
<rect x="592.00" y="349.20" width="133.00" height="76.00" fill="none" stroke="#000" stroke-width="0.75"/>
<text transform="translate(658.80 346.50) scale(0.918 1)" font-size="10" text-anchor="middle">VASTO</text>
<path d="M83.33 73.60V67.90M113.53 73.60V67.90M143.74 73.60V67.90M173.94 73.60V67.90M216.32 73.60V67.90M246.53 73.60V67.90M276.74 73.60V67.90M306.94 73.60V67.90M349.32 73.60V67.90M379.53 73.60V67.90M409.74 73.60V67.90M439.94 73.60V67.90M482.32 73.60V67.90M512.53 73.60V67.90M542.74 73.60V67.90M572.94 73.60V67.90M615.33 73.60V67.90M645.53 73.60V67.90M675.74 73.60V67.90M705.94 73.60V67.90M748.33 73.60V67.90M778.53 73.60V67.90M808.74 73.60V67.90M838.94 73.60V67.90M83.33 425.20V430.90M113.53 425.20V430.90M143.74 425.20V430.90M173.94 425.20V430.90M216.32 425.20V430.90M246.53 425.20V430.90M276.74 425.20V430.90M306.94 425.20V430.90M349.32 425.20V430.90M379.53 425.20V430.90M409.74 425.20V430.90M439.94 425.20V430.90M482.32 425.20V430.90M512.53 425.20V430.90M542.74 425.20V430.90M572.94 425.20V430.90M615.33 425.20V430.90M645.53 425.20V430.90M675.74 425.20V430.90M705.94 425.20V430.90M60.00 98.41H54.30M60.00 116.77H54.30M60.00 135.13H54.30M60.00 153.50H54.30M60.00 186.31H54.30M60.00 204.67H54.30M60.00 223.04H54.30M60.00 241.40H54.30M60.00 274.20H54.30M60.00 292.57H54.30M60.00 310.94H54.30M60.00 329.30H54.30M60.00 362.11H54.30M60.00 380.47H54.30M60.00 398.84H54.30M60.00 417.20H54.30M858.00 98.41H863.70M858.00 116.77H863.70M858.00 135.13H863.70M858.00 153.50H863.70M858.00 186.31H863.70M858.00 204.67H863.70M858.00 223.04H863.70M858.00 241.40H863.70M858.00 274.20H863.70M858.00 292.57H863.70M858.00 310.94H863.70M858.00 329.30H863.70M725.00 362.11H730.70M725.00 380.47H730.70M725.00 398.84H730.70M725.00 417.20H730.70" stroke="#000" stroke-width="0.75" fill="none"/>
<text transform="translate(216.32 62.40) rotate(-45)" font-size="9.6" dy="0.35em">Oct 06</text>
<text transform="translate(246.53 62.40) rotate(-45)" font-size="9.6" dy="0.35em">Oct 13</text>
<text transform="translate(276.74 62.40) rotate(-45)" font-size="9.6" dy="0.35em">Oct 20</text>
<text transform="translate(306.94 62.40) rotate(-45)" font-size="9.6" dy="0.35em">Oct 27</text>
<text transform="translate(482.32 62.40) rotate(-45)" font-size="9.6" dy="0.35em">Oct 06</text>
<text transform="translate(512.53 62.40) rotate(-45)" font-size="9.6" dy="0.35em">Oct 13</text>
<text transform="translate(542.74 62.40) rotate(-45)" font-size="9.6" dy="0.35em">Oct 20</text>
<text transform="translate(572.94 62.40) rotate(-45)" font-size="9.6" dy="0.35em">Oct 27</text>
<text transform="translate(748.33 62.40) rotate(-45)" font-size="9.6" dy="0.35em">Oct 06</text>
<text transform="translate(778.53 62.40) rotate(-45)" font-size="9.6" dy="0.35em">Oct 13</text>
<text transform="translate(808.74 62.40) rotate(-45)" font-size="9.6" dy="0.35em">Oct 20</text>
<text transform="translate(838.94 62.40) rotate(-45)" font-size="9.6" dy="0.35em">Oct 27</text>
<text transform="translate(83.33 436.70) rotate(-45)" font-size="9.6" dy="0.35em" text-anchor="end">Oct 06</text>
<text transform="translate(113.53 436.70) rotate(-45)" font-size="9.6" dy="0.35em" text-anchor="end">Oct 13</text>
<text transform="translate(143.74 436.70) rotate(-45)" font-size="9.6" dy="0.35em" text-anchor="end">Oct 20</text>
<text transform="translate(173.94 436.70) rotate(-45)" font-size="9.6" dy="0.35em" text-anchor="end">Oct 27</text>
<text transform="translate(349.32 436.70) rotate(-45)" font-size="9.6" dy="0.35em" text-anchor="end">Oct 06</text>
<text transform="translate(379.53 436.70) rotate(-45)" font-size="9.6" dy="0.35em" text-anchor="end">Oct 13</text>
<text transform="translate(409.74 436.70) rotate(-45)" font-size="9.6" dy="0.35em" text-anchor="end">Oct 20</text>
<text transform="translate(439.94 436.70) rotate(-45)" font-size="9.6" dy="0.35em" text-anchor="end">Oct 27</text>
<text transform="translate(615.33 436.70) rotate(-45)" font-size="9.6" dy="0.35em" text-anchor="end">Oct 06</text>
<text transform="translate(645.53 436.70) rotate(-45)" font-size="9.6" dy="0.35em" text-anchor="end">Oct 13</text>
<text transform="translate(675.74 436.70) rotate(-45)" font-size="9.6" dy="0.35em" text-anchor="end">Oct 20</text>
<text transform="translate(705.94 436.70) rotate(-45)" font-size="9.6" dy="0.35em" text-anchor="end">Oct 27</text>
<text x="49.70" y="101.81" font-size="9.6" text-anchor="end">5</text>
<text x="49.70" y="120.17" font-size="9.6" text-anchor="end">0</text>
<text x="49.70" y="138.53" font-size="9.6" text-anchor="end">-5</text>
<text x="49.70" y="156.90" font-size="9.6" text-anchor="end">-10</text>
<text x="49.70" y="277.60" font-size="9.6" text-anchor="end">5</text>
<text x="49.70" y="295.97" font-size="9.6" text-anchor="end">0</text>
<text x="49.70" y="314.33" font-size="9.6" text-anchor="end">-5</text>
<text x="49.70" y="332.70" font-size="9.6" text-anchor="end">-10</text>
<text x="868.80" y="189.71" font-size="9.6">5</text>
<text x="868.80" y="208.07" font-size="9.6">0</text>
<text x="868.80" y="226.44" font-size="9.6">-5</text>
<text x="868.80" y="244.80" font-size="9.6">-10</text>
<text x="735.80" y="365.50" font-size="9.6">5</text>
<text x="735.80" y="383.87" font-size="9.6">0</text>
<text x="735.80" y="402.24" font-size="9.6">-5</text>
<text x="735.80" y="420.60" font-size="9.6">-10</text>
</svg></body></html>
